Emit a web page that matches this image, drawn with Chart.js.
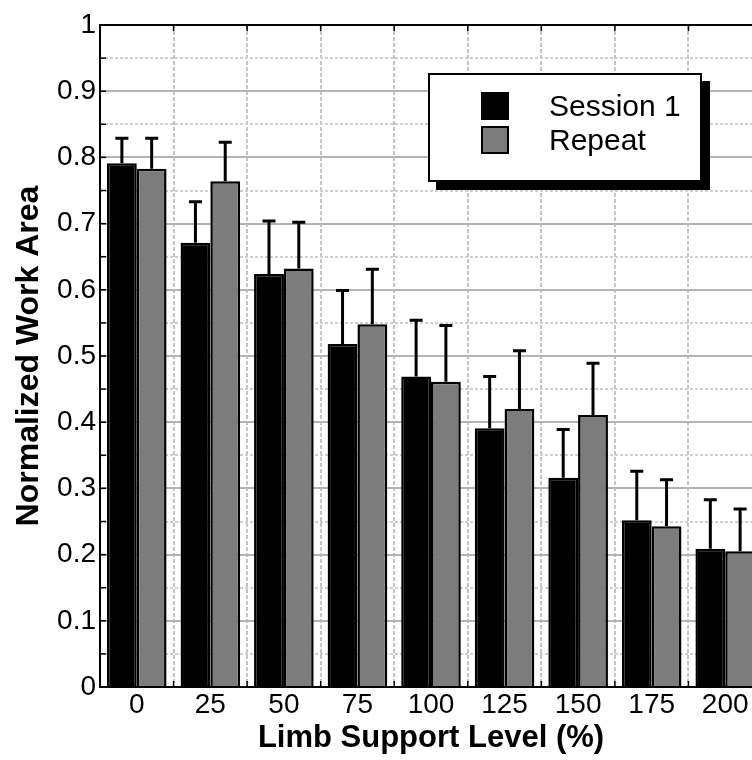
<!DOCTYPE html>
<html>
<head>
<meta charset="utf-8">
<script src="https://cdn.jsdelivr.net/npm/chart.js@4.4.1/dist/chart.umd.min.js"></script>
<style>
  html, body { margin: 0; padding: 0; overflow: hidden; background: #fff; }
  #wrap { position: relative; width: 770px; height: 760px; }
  #legend {
    position: absolute; left: 428px; top: 73px; width: 270px; height: 91px;
    border: 2px solid #000; background: #fff; box-shadow: 8px 8px 0 #000;
    font-family: 'Liberation Sans', Arial, sans-serif; font-size: 30px; color: #000;
    padding-top: 14px; box-sizing: content-box;
  }
  #legend .row { display: flex; align-items: center; height: 34px; padding-left: 51px; }
  #legend .sw { width: 28px; height: 28px; box-sizing: border-box; border: 2px solid #000; margin-right: 40px; }
</style>
</head>
<body>
<div id="wrap">
  <canvas id="chart" width="770" height="760"></canvas>
  <div id="legend"></div>
</div>
<script>
var categories = ['0', '25', '50', '75', '100', '125', '150', '175', '200'];
var session1 = [0.791, 0.671, 0.624, 0.518, 0.469, 0.391, 0.316, 0.252, 0.209];
var repeat = [0.783, 0.764, 0.632, 0.548, 0.461, 0.420, 0.411, 0.243, 0.205];
var session1Err = [0.038, 0.062, 0.080, 0.081, 0.085, 0.078, 0.073, 0.074, 0.074];
var repeatErr = [0.046, 0.059, 0.070, 0.083, 0.085, 0.088, 0.078, 0.070, 0.064];

var FONT = "'Liberation Sans', Arial, sans-serif";

// error bars (upper half only), inner tick marks and the top frame line
var extras = {
    id: 'extras',
    afterDatasetsDraw: function(chart) {
        var ctx = chart.ctx;
        var y = chart.scales.y;
        var x = chart.scales.x;
        var area = chart.chartArea;
        ctx.save();
        ctx.strokeStyle = '#000';
        ctx.lineWidth = 3;
        chart.data.datasets.forEach(function(ds, i) {
            var meta = chart.getDatasetMeta(i);
            meta.data.forEach(function(bar, j) {
                var top = y.getPixelForValue(ds.data[j] + ds.errors[j]);
                ctx.beginPath();
                ctx.moveTo(bar.x, bar.y);
                ctx.lineTo(bar.x, top);
                ctx.moveTo(bar.x - 6.5, top);
                ctx.lineTo(bar.x + 6.5, top);
                ctx.stroke();
            });
        });
        // top frame
        ctx.lineWidth = 2;
        ctx.beginPath();
        ctx.moveTo(area.left, area.top);
        ctx.lineTo(area.right, area.top);
        ctx.stroke();
        // inner ticks on the left axis
        ctx.lineWidth = 1.5;
        for (var k = 0; k <= 20; k++) {
            var py = y.getPixelForValue(k * 0.05);
            ctx.beginPath();
            ctx.moveTo(area.left, py);
            ctx.lineTo(area.left + 6, py);
            ctx.stroke();
        }
        // inner ticks on bottom and top at category boundaries
        for (var c = 1; c < categories.length + 1; c++) {
            var px = x.getPixelForValue(c - 0.5);
            ctx.beginPath();
            ctx.moveTo(px, area.bottom);
            ctx.lineTo(px, area.bottom - 6);
            ctx.moveTo(px, area.top);
            ctx.lineTo(px, area.top + 6);
            ctx.stroke();
        }
        ctx.restore();
    }
};

var chart = new Chart(document.getElementById('chart'), {
    type: 'bar',
    data: {
        labels: categories,
        datasets: [
            {
                label: 'Session 1',
                data: session1,
                errors: session1Err,
                backgroundColor: '#000000',
                borderColor: '#000000',
                borderWidth: 2.5
            },
            {
                label: 'Repeat',
                data: repeat,
                errors: repeatErr,
                backgroundColor: '#7c7c7c',
                borderColor: '#000000',
                borderWidth: 2.5
            }
        ]
    },
    options: {
        responsive: false,
        animation: false,
        events: [],
        layout: { padding: { top: 25, right: 8, left: 0, bottom: 0 } },
        datasets: { bar: { categoryPercentage: 0.81, barPercentage: 1.0 } },
        plugins: {
            legend: { display: false },
            tooltip: { enabled: false }
        },
        scales: {
            x: {
                grid: { color: '#c4c4c4', lineWidth: 2, drawTicks: false },
                border: { color: '#000', width: 2, dash: [4, 2] },
                ticks: { color: '#000', font: { family: FONT, size: 28 }, padding: 1, maxRotation: 0, autoSkip: false },
                title: {
                    display: true, text: 'Limb Support Level (%)', color: '#000',
                    font: { family: FONT, size: 31, weight: 'bold' }, padding: { top: 0, bottom: 3 }
                },
                afterFit: function(s) { s.height = 73; }
            },
            y: {
                min: 0, max: 1,
                grid: { color: '#b4b4b4', lineWidth: 2, drawTicks: false },
                border: { color: '#000', width: 2 },
                ticks: {
                    stepSize: 0.1, color: '#000', padding: 4,
                    font: { family: FONT, size: 28 },
                    callback: function(v) { return String(Number(v.toFixed(1))); }
                },
                title: {
                    display: true, text: 'Normalized Work Area', color: '#000',
                    font: { family: FONT, size: 32, weight: 'bold' }, padding: { top: 10, bottom: 0 }
                },
                afterFit: function(s) { s.width = 100; }
            },
            yMinor: {
                position: 'right',
                min: 0, max: 1,
                ticks: { display: false, stepSize: 0.05 },
                grid: {
                    drawTicks: false, lineWidth: 2,
                    color: function(c) {
                        return Math.round(c.tick.value * 100) % 10 === 5 ? '#cfcfcf' : 'rgba(0,0,0,0)';
                    }
                },
                border: { display: false, dash: [3, 2] }
            }
        }
    },
    plugins: [extras]
});

var legend = document.getElementById('legend');
chart.data.datasets.forEach(function(ds) {
    var row = document.createElement('div');
    row.className = 'row';
    var sw = document.createElement('span');
    sw.className = 'sw';
    sw.style.background = ds.backgroundColor;
    var txt = document.createElement('span');
    txt.textContent = ds.label;
    row.appendChild(sw);
    row.appendChild(txt);
    legend.appendChild(row);
});
</script>
</body>
</html>
